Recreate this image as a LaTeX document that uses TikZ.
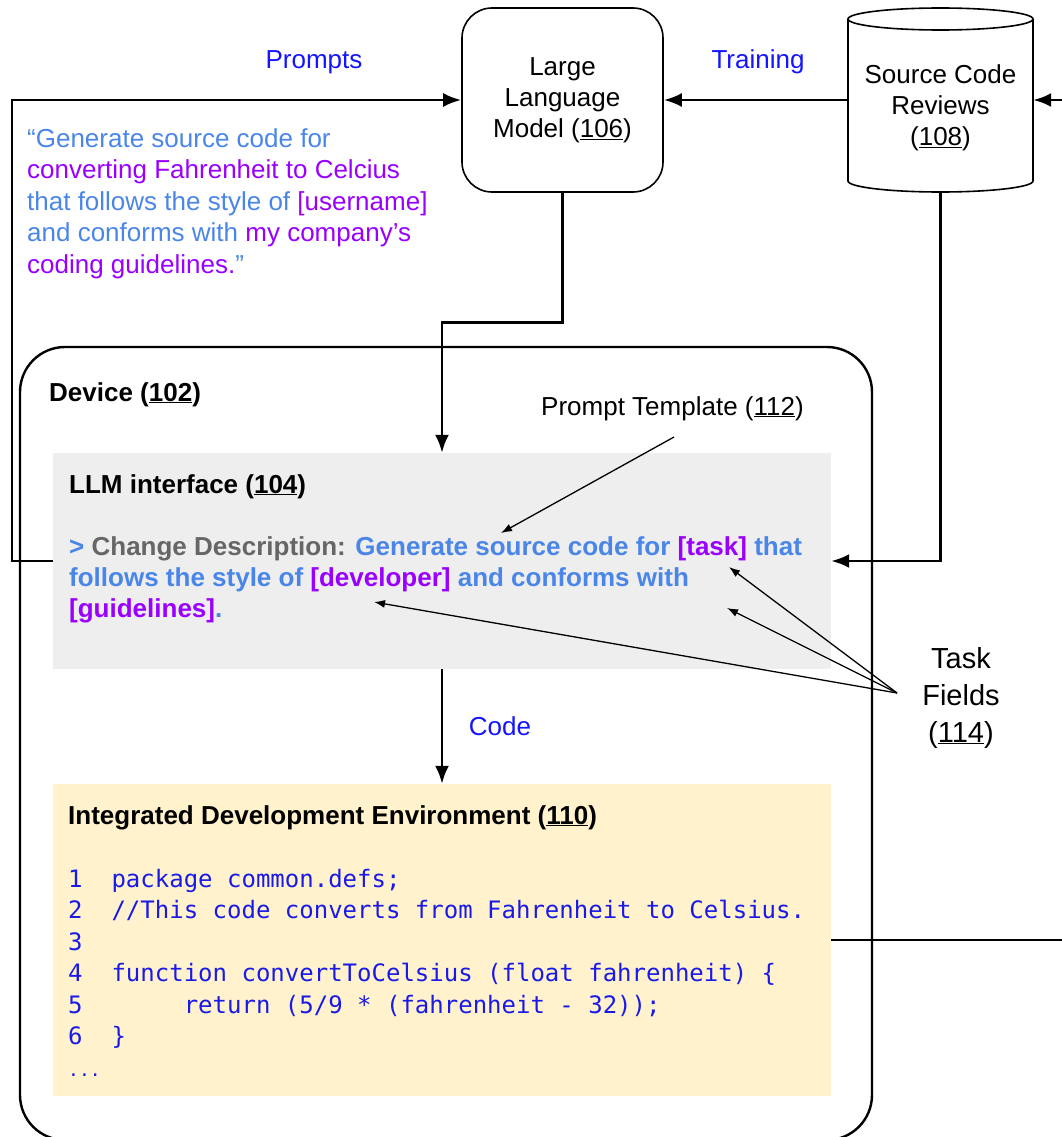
\documentclass[tikz,border=0pt]{standalone}
\usepackage{fontspec}
\setmainfont{Liberation Sans}
\newfontfamily\codefont{DejaVu Sans Mono}
\usetikzlibrary{arrows.meta}
\definecolor{lblue}{HTML}{1414FF}
\definecolor{qblue}{HTML}{4A86E8}
\definecolor{qpurple}{HTML}{9900FF}
\definecolor{dgray}{HTML}{666666}
\definecolor{cblue}{HTML}{1A1AE8}
\definecolor{grayfill}{HTML}{EEEEEE}
\definecolor{idefill}{HTML}{FFF2CC}
\tikzset{
  txt/.style={font=\fontsize{26}{31.5}\selectfont, inner sep=0pt, anchor=base west},
  btxt/.style={txt, font=\fontsize{26}{31.5}\selectfont\bfseries},
  lbl/.style={txt, text=lblue, anchor=base},
  ctxt/.style={txt, anchor=base, font=\fontsize{26}{31.5}\selectfont},
  codeline/.style={inner sep=0pt, anchor=base west, text=cblue, font=\fontsize{24}{31.5}\selectfont\codefont},
  conn/.style={line width=2.8pt, -{Latex[length=18pt,width=14pt]}},
  plainconn/.style={line width=2.8pt},
  thinarrow/.style={line width=1.3pt, -{Latex[length=11pt,width=8pt]}},
  boxarea/.style={draw=none, inner sep=0pt},
}
\begin{document}
\begin{tikzpicture}[x=1pt,y=-1pt]
\useasboundingbox (0,0) rectangle (1062,1137);
% Device
\node[boxarea, draw, line width=2.4pt, rounded corners=45pt, minimum width=852pt, minimum height=793pt] (dev) at (446,743.5) {};
% LLM box
\node[draw, line width=1.6pt, rounded corners=30pt, minimum width=201pt, minimum height=184pt, inner sep=0pt, align=center,
      font=\fontsize{26}{31.5}\selectfont] (llm) at (562.5,100) {\raisebox{-4pt}{\begin{tabular}{@{}c@{}}Large\\[-0.6pt]Language\\[-0.6pt]Model (\underline{106})\end{tabular}}};
% Cylinder
\node[boxarea, minimum width=185pt, minimum height=184pt] (scr) at (940.5,100) {};
\draw[line width=1.6pt] (848,19) -- (848,181) arc[start angle=180, end angle=0, x radius=92.5, y radius=11] -- (1033,19);
\draw[line width=1.6pt] (940.5,19) ellipse [x radius=92.5, y radius=11];
\node[ctxt] (scr1) at (940.5,84) {Source Code};
\node[ctxt] (scr2) at (940.5,115) {Reviews};
\node[ctxt] (scr3) at (940.5,146) {(\underline{108})};
% Labels
\node[lbl] (lprompts) at (314,69) {Prompts};
\node[lbl] (ltraining) at (758,69) {Training};
\node[lbl] (lcode) at (500,735) {Code};
% Quote
\node[txt, text=qblue] (q1) at (27,147) {“Generate source code for};
\node[txt, text=qpurple] (q2) at (27,178.5) {converting Fahrenheit to Celcius};
\node[txt] (q3) at (27,210) {\textcolor{qblue}{that follows the style of} \textcolor{qpurple}{[username]}};
\node[txt] (q4) at (27,241.5) {\textcolor{qblue}{and conforms with} \textcolor{qpurple}{my company’s}};
\node[txt] (q5) at (27,273) {\textcolor{qpurple}{coding guidelines.}\textcolor{qblue}{”}};
% LLM interface box
\node[boxarea, fill=grayfill, minimum width=778pt, minimum height=216pt] (iface) at (442,561) {};
\node[btxt] (dlabel) at (49,401) {Device (\underline{102})};
\node[btxt] (ilabel) at (69,493) {LLM interface (\underline{104})};
\node[btxt] (cd1) at (69,555) {\textcolor{qblue}{>} \textcolor{dgray}{Change Description:} \textcolor{qblue}{Generate source code for} \textcolor{qpurple}{[task]} \textcolor{qblue}{that}};
\node[btxt] (cd2) at (69,586) {\textcolor{qblue}{follows the style of} \textcolor{qpurple}{[developer]} \textcolor{qblue}{and conforms with}};
\node[btxt] (cd3) at (69,617) {\textcolor{qpurple}{[guidelines]}\textcolor{qblue}{.}};
% Prompt template
\node[txt] (pt) at (541,415) {Prompt Template (\underline{112})};
% Task fields
\node[ctxt, font=\fontsize{29}{37}\selectfont] (tf1) at (961,668) {Task};
\node[ctxt, font=\fontsize{29}{37}\selectfont] (tf2) at (961,705) {Fields};
\node[ctxt, font=\fontsize{29}{37}\selectfont] (tf3) at (961,742) {(\underline{114})};
% IDE box
\node[boxarea, fill=idefill, minimum width=778pt, minimum height=312pt] (ide) at (442,940) {};
\node[btxt] (idelabel) at (68,824) {Integrated Development Environment (\underline{110})};
\node[codeline] (c1) at (68,887) {1\ \ package common.defs;};
\node[codeline] (c2) at (68,918.5) {2\ \ //This code converts from Fahrenheit to Celsius.};
\node[codeline] (c3) at (68,950) {3};
\node[codeline] (c4) at (68,981.5) {4\ \ function convertToCelsius (float fahrenheit) \{};
\node[codeline] (c5) at (68,1013) {5\ \ \ \ \ \ \ return (5/9 * (fahrenheit - 32));};
\node[codeline] (c6) at (68,1044.5) {6\ \ \}};
\node[codeline, font=\fontsize{18}{31.5}\selectfont\codefont] (c7) at (68,1076) {...};
% Connectors
\coordinate (rin) at (1062,100);
\coordinate (rout) at (1062,940);
\coordinate (ptfoot) at (674,437);
\coordinate (pttip) at (501,533);
\coordinate (tfo) at (897,693);
\coordinate (tk1) at (729,567);
\coordinate (tk2) at (727,608);
\coordinate (tk3) at (374,602);
\draw[conn] (iface.west) -- (12,561) |- (llm.west);
\draw[conn] (scr.west) -- (llm.east);
\draw[conn] (rin) -- (scr.east);
\draw[conn] (llm.south) -- ++(0,130) -| (iface.north);
\draw[conn] (scr.south) |- (iface.east);
\draw[conn] (iface.south) -- (ide.north);
\draw[plainconn] (ide.east) -- (rout);
\draw[thinarrow] (ptfoot) -- (pttip);
\draw[thinarrow] (tfo) -- (tk1);
\draw[thinarrow] (tfo) -- (tk2);
\draw[thinarrow] (tfo) -- (tk3);
\end{tikzpicture}
\end{document}
